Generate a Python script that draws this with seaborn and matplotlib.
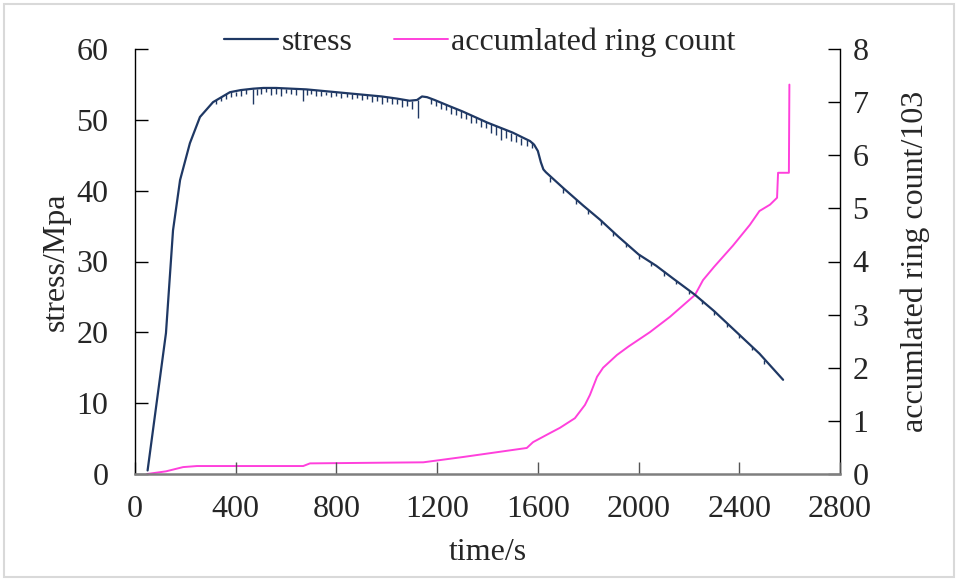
import numpy as np
import pandas as pd
import matplotlib
matplotlib.use("Agg")
import matplotlib.pyplot as plt
import seaborn as sns
from matplotlib.patches import Rectangle

# ---- data ----
stress_time = [50, 123, 151, 179, 218, 258, 310, 377, 420, 470, 510, 560, 620, 680,
               740, 800, 860, 920, 980, 1040, 1090, 1120, 1140, 1160, 1190, 1251,
               1300, 1350, 1400, 1450, 1500, 1540, 1569, 1585, 1600, 1612, 1622,
               1632, 1700, 1780, 1847, 1920, 2000, 2070, 2137, 2224, 2300, 2375,
               2480, 2574]
stress_value = [0.5, 19.9, 34.4, 41.5, 46.7, 50.4, 52.5, 53.9, 54.2, 54.4, 54.5,
                54.5, 54.4, 54.3, 54.1, 53.9, 53.7, 53.5, 53.3, 53.0, 52.7, 52.8,
                53.3, 53.2, 52.8, 51.9, 51.2, 50.4, 49.6, 48.9, 48.2, 47.5, 47.0,
                46.5, 45.6, 44.0, 43.0, 42.6, 40.4, 37.9, 35.9, 33.5, 31.0, 29.4,
                27.6, 25.3, 23.0, 20.5, 17.0, 13.3]

# downward spikes on the stress curve: time, top and bottom of each spike
dip_time = [320, 340, 360, 380, 400, 420, 440, 469, 485, 500, 520, 540, 560, 580,
            600, 620, 640, 668, 685, 700, 720, 740, 760, 780, 800, 820, 840, 860,
            880, 900, 920, 940, 960, 980, 1000, 1020, 1040, 1060, 1080, 1100, 1124,
            1175, 1195, 1215, 1235, 1255, 1275, 1295, 1315, 1335, 1355, 1375,
            1395, 1415, 1435, 1455, 1475, 1495, 1515, 1535, 1555, 1575,
            1650, 1700, 1750, 1800, 1850, 1900, 1950, 2000, 2050, 2100, 2150,
            2200, 2250, 2300, 2350, 2400, 2450, 2500]
dip_top = [52.8, 53.2, 53.6, 53.9, 54.0, 54.2, 54.3, 54.4, 54.4, 54.5, 54.5, 54.5,
           54.5, 54.5, 54.4, 54.4, 54.4, 54.3, 54.3, 54.2, 54.2, 54.1, 54.0, 54.0,
           53.9, 53.8, 53.8, 53.7, 53.6, 53.6, 53.5, 53.4, 53.4, 53.3, 53.2, 53.1,
           53.0, 52.9, 52.8, 52.7, 52.8, 53.1, 52.8, 52.5, 52.2, 51.9, 51.6, 51.3,
           51.0, 50.7, 50.4, 50.1, 49.7, 49.4, 49.1, 48.8, 48.5, 48.2, 47.8, 47.5,
           47.2, 46.9, 41.9, 40.4, 38.8, 37.3, 35.8, 34.2, 32.6, 31.0, 29.9, 28.6,
           27.3, 25.9, 24.5, 23.0, 21.3, 19.7, 18.0, 16.1]
dip_bottom = [52.2, 52.6, 53.0, 53.2, 53.3, 53.4, 53.6, 52.2, 53.5, 53.6, 53.9,
              53.5, 53.7, 53.4, 53.8, 53.6, 53.5, 52.6, 53.5, 53.6, 53.3, 53.4,
              53.5, 53.2, 53.3, 53.1, 53.2, 53.0, 53.1, 52.8, 52.9, 52.5, 52.7,
              52.3, 52.5, 52.2, 52.3, 51.8, 52.0, 51.6, 50.3, 52.3, 52.0, 51.6,
              51.4, 50.8, 50.7, 50.2, 50.1, 49.6, 49.5, 49.0, 48.8, 48.2, 47.8,
              47.2, 47.5, 47.0, 46.9, 46.4, 46.3, 46.0, 41.2, 39.7, 38.1, 36.7,
              35.2, 33.6, 32.0, 30.4, 29.3, 28.0, 26.8, 25.4, 24.0, 22.5, 20.8,
              19.2, 17.5, 15.6]

ring_time = [48, 123, 191, 246, 668, 695, 1145, 1303, 1437, 1556, 1581, 1648, 1688,
             1747, 1787, 1807, 1835, 1859, 1914, 1960, 2045, 2125, 2224, 2256,
             2300, 2375, 2442, 2480, 2522, 2550, 2554, 2597, 2599]
ring_value = [0.0, 0.05, 0.13, 0.15, 0.15, 0.2, 0.22, 0.32, 0.41, 0.49, 0.6, 0.77,
              0.87, 1.05, 1.3, 1.49, 1.83, 2.0, 2.24, 2.4, 2.67, 2.96, 3.37, 3.65,
              3.9, 4.3, 4.69, 4.95, 5.07, 5.2, 5.67, 5.67, 7.33]

x_ticks = [0, 400, 800, 1200, 1600, 2000, 2400, 2800]
y1_ticks = [0, 10, 20, 30, 40, 50, 60]
y2_ticks = [0, 1, 2, 3, 4, 5, 6, 7, 8]

stress_df = pd.DataFrame({"time": stress_time, "stress": stress_value})
ring_df = pd.DataFrame({"time": ring_time, "ring": ring_value})

# ---- styling ----
sns.set_style("white")
plt.rcParams["font.family"] = ["Liberation Serif", "DejaVu Serif"]
FS = 23
navy = "#1F3864"
pink = "#FF40DC"

fig = plt.figure(figsize=(9.58, 5.81), dpi=100)
ax = fig.add_axes([135 / 958, 1 - 474 / 581, 705 / 958, 425 / 581])
ax2 = ax.twinx()

sns.lineplot(data=stress_df, x="time", y="stress", ax=ax, color=navy, lw=1.6,
             label="stress", legend=False, sort=False)
ax.vlines(dip_time, dip_bottom, dip_top, color=navy, lw=1.0)
sns.lineplot(data=ring_df, x="time", y="ring", ax=ax2, color=pink, lw=1.4,
             label="accumlated ring count", legend=False, sort=False)

ax.set_xlim(0, 2800)
ax.set_ylim(0, 60)
ax2.set_ylim(0, 8)
ax.set_xticks(x_ticks)
ax.set_yticks(y1_ticks)
ax2.set_yticks(y2_ticks)
ax.set_xticklabels([str(v) for v in x_ticks], fontsize=FS)
ax.set_yticklabels([str(v) for v in y1_ticks], fontsize=FS)
ax2.set_yticklabels([str(v) for v in y2_ticks], fontsize=FS)

for a in (ax, ax2):
    a.spines["top"].set_visible(False)
    a.grid(False)
ax.spines["left"].set_color("black")
ax.spines["left"].set_linewidth(1.0)
ax2.spines["right"].set_color("black")
ax2.spines["right"].set_linewidth(1.0)
ax2.spines["left"].set_visible(False)
ax.spines["right"].set_visible(False)
ax.spines["bottom"].set_color("#7f7f7f")
ax.spines["bottom"].set_linewidth(1.8)
ax2.spines["bottom"].set_visible(False)

ax.tick_params(axis="y", direction="in", length=9, width=1.0, color="black",
               pad=19, left=True)
ax.tick_params(axis="x", direction="in", length=9, width=1.0, color="#555555",
               pad=15, bottom=True)
ax2.tick_params(axis="y", direction="in", length=9, width=1.0, color="black",
                pad=9, right=True)

ax.set_xlabel("time/s", fontsize=FS, labelpad=10)
ax.set_ylabel("stress/Mpa", fontsize=FS, labelpad=4)
ax2.set_ylabel("accumlated ring count/103", fontsize=FS, labelpad=23)

h1, l1 = ax.get_legend_handles_labels()
h2, l2 = ax2.get_legend_handles_labels()
leg = ax.legend(h1 + h2, l1 + l2, loc="center", bbox_to_anchor=(480 / 958, 1 - 42 / 581),
                bbox_transform=fig.transFigure, ncol=2, frameon=False, fontsize=FS,
                handlelength=1.7, handletextpad=0.1, columnspacing=1.3,
                borderpad=0.0)
ax.set_zorder(ax2.get_zorder() + 1)
ax.patch.set_visible(False)

fig.patches.append(Rectangle((4 / 958, 4 / 581), 950 / 958, 573 / 581,
                             transform=fig.transFigure, fill=False,
                             edgecolor="#d9d9d9", lw=1.5))

fig.savefig("out.png", dpi=100, facecolor="white")
